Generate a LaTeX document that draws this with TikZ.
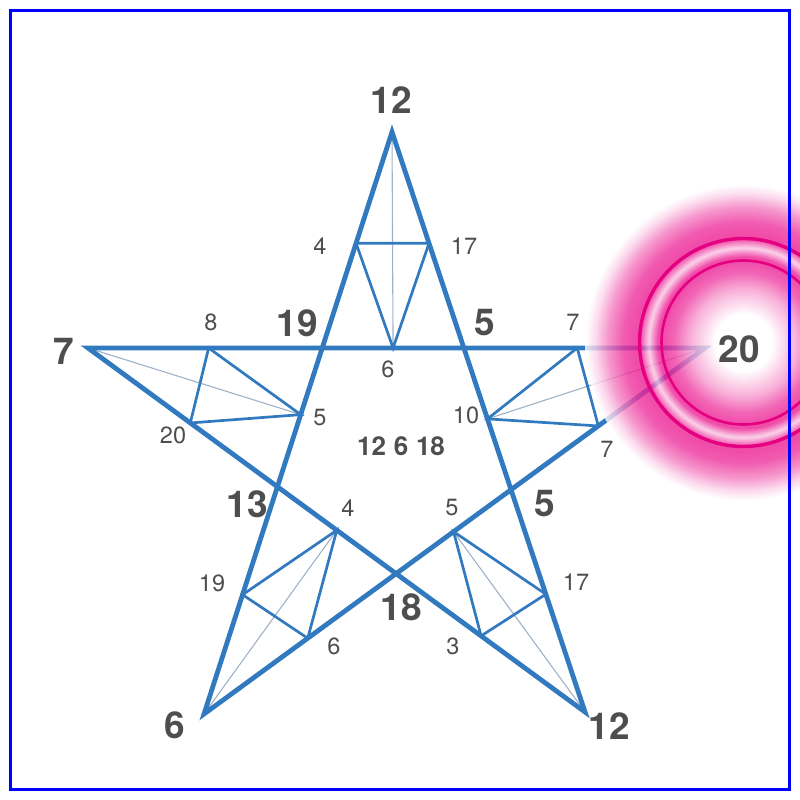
\documentclass[tikz,border=0pt]{standalone}
\usepackage{fontspec}
\setmainfont{TeX Gyre Heros}
\usetikzlibrary{calc}
\definecolor{starblue}{RGB}{50,122,192}
\definecolor{thinblue}{RGB}{160,178,198}
\definecolor{labelgray}{RGB}{78,78,78}
\definecolor{ringmag}{RGB}{228,0,128}
\definecolor{glowpink}{RGB}{236,32,148}
\pgfdeclareradialshading{glowshade}{\pgfpoint{0bp}{0bp}}{%
 color(0bp)=(white); color(4.5bp)=(white); color(8.5bp)=(glowpink!45!white); color(11bp)=(glowpink!85!white); color(12.8bp)=(glowpink);
 color(13.6bp)=(glowpink); color(15bp)=(white!75!glowpink); color(16.4bp)=(glowpink);
 color(17.2bp)=(glowpink); color(19bp)=(glowpink!92!white); color(21.5bp)=(glowpink!58!white); color(23.5bp)=(glowpink!20!white);
 color(25bp)=(white); color(50bp)=(white)}
\tikzset{
  starline/.style={draw=starblue, line width=4.8pt, line join=miter},
  innerline/.style={draw=starblue, line width=2.7pt},
  thinline/.style={draw=thinblue, line width=1.1pt},
  bignum/.style={text=labelgray, font=\fontsize{37}{37}\selectfont\bfseries, inner sep=0pt},
  midnum/.style={text=labelgray, font=\fontsize{26}{26}\selectfont\bfseries, inner sep=0pt},
  smallnum/.style={text=labelgray, font=\fontsize{23.5}{23.5}\selectfont, inner sep=0pt},
}
\begin{document}
\begin{tikzpicture}[x=1pt, y=-1pt]
\useasboundingbox (0,0) rectangle (800,800);
\begin{scope}
\clip (0,0) rectangle (800,800);
% star tips
\coordinate (T) at (392,132);
\coordinate (L) at (88,348);
\coordinate (R) at (705,348);
\coordinate (BL) at (204,714);
\coordinate (BR) at (585,712);
% inner pentagon
\coordinate (A) at (intersection of T--BL and L--R);
\coordinate (B) at (intersection of T--BR and L--R);
\coordinate (C) at (intersection of T--BR and R--BL);
\coordinate (D) at (intersection of L--BR and R--BL);
\coordinate (E) at (intersection of T--BL and L--BR);
% construction points
\coordinate (t1) at ($(T)!0.515!(A)$);
\coordinate (t2) at ($(T)!0.515!(B)$);
\coordinate (tm) at ($(A)!0.5!(B)$);
\coordinate (l1) at ($(L)!0.515!(A)$);
\coordinate (l2) at ($(L)!0.54!(E)$);
\coordinate (lm) at ($(A)!0.48!(E)$);
\coordinate (r1) at ($(R)!0.53!(B)$);
\coordinate (r2) at ($(R)!0.55!(C)$);
\coordinate (rm) at ($(B)!0.5!(C)$);
\coordinate (a1) at ($(BL)!0.525!(E)$);
\coordinate (a2) at ($(BL)!0.54!(D)$);
\coordinate (am) at ($(E)!0.5!(D)$);
\coordinate (b1) at ($(BR)!0.53!(C)$);
\coordinate (b2) at ($(BR)!0.55!(D)$);
\coordinate (bm) at ($(D)!0.5!(C)$);
% thin axes
\draw[thinline] (T) -- (tm);
\draw[thinline] (L) -- (lm);
\draw[thinline] (R) -- (rm);
\draw[thinline] (BL) -- (am);
\draw[thinline] (BR) -- (bm);
% inner triangles
\draw[innerline] (t1) -- (t2) -- (tm) -- cycle;
\draw[innerline] (l1) -- (l2) -- (lm) -- cycle;
\draw[innerline] (r1) -- (r2) -- (rm) -- cycle;
\draw[innerline] (a1) -- (a2) -- (am) -- cycle;
\draw[innerline] (b1) -- (b2) -- (bm) -- cycle;
% star
\draw[starline] (T) -- (BL) -- (R) -- (L) -- (BR) -- cycle;
% glow
\coordinate (G) at (743.5,342.5);
\shade[shading=glowshade, opacity=0.8] (G) circle (158);
\draw[ringmag, line width=3.4pt] (G) circle (104);
\draw[ringmag, line width=2.6pt] (G) circle (82);
\end{scope}
% labels
\node[bignum] (nT) at (391,100) {12};
\node[bignum] (nL) at (64,351) {7};
\node[bignum] (nR) at (739,349) {20};
\node[bignum] (nBL) at (175,725) {6};
\node[bignum] (nBR) at (609,726) {12};
\node[bignum] (nA) at (297,323) {19};
\node[bignum] (nB) at (485,323) {5};
\node[bignum] (nC) at (545,504) {5};
\node[bignum] (nD) at (401,607) {18};
\node[bignum] (nE) at (247,504) {13};
\node[midnum] (nMid) at (401,446) {12\hspace{0.3em}6\hspace{0.3em}18};
\node[smallnum] (s1) at (320,246) {4};
\node[smallnum] (s2) at (464,246) {17};
\node[smallnum] (s3) at (388,369) {6};
\node[smallnum] (s4) at (211,322) {8};
\node[smallnum] (s5) at (173,435) {20};
\node[smallnum] (s6) at (320,418) {5};
\node[smallnum] (s7) at (573,322) {7};
\node[smallnum] (s8) at (466,415) {10};
\node[smallnum] (s9) at (607,449) {7};
\node[smallnum] (s10) at (348,508) {4};
\node[smallnum] (s11) at (212,583) {19};
\node[smallnum] (s12) at (334,646) {6};
\node[smallnum] (s13) at (452,508) {5};
\node[smallnum] (s14) at (576,582) {17};
\node[smallnum] (s15) at (453,646) {3};
% frame
\draw[blue, line width=3pt] (10.5,10.5) rectangle (789.5,789.5);
\end{tikzpicture}
\end{document}
